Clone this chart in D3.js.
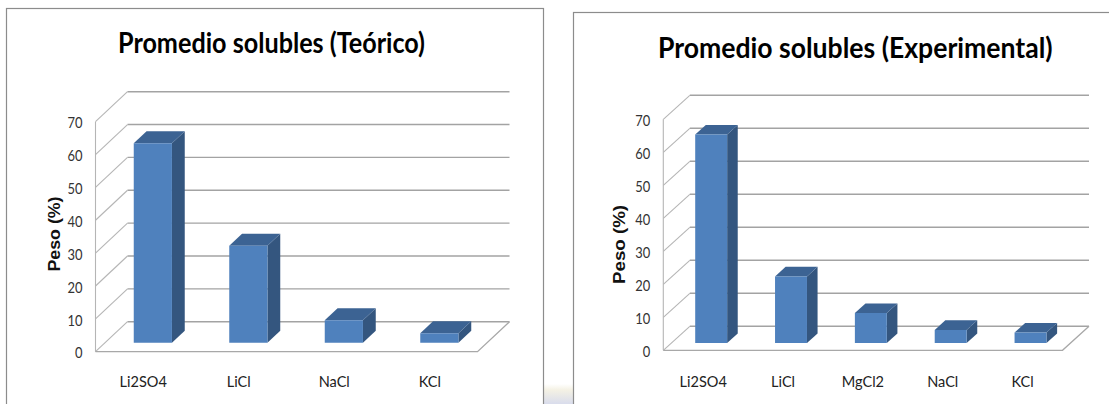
<!DOCTYPE html>
<html><head><meta charset="utf-8">
<script src="https://cdn.jsdelivr.net/npm/d3@7"></script>
<style>body{margin:0;background:#fff;} svg{display:block;}</style>
</head><body>
<svg id="c" width="1109" height="404"></svg>
<script>
// Average soluble salt content, theoretical vs experimental
const categoriesTeorico = ["Li2SO4", "LiCl", "NaCl", "KCl"];
const valuesTeorico = [60.7, 29.5, 6.8, 2.9];
const categoriesExperimental = ["Li2SO4", "LiCl", "MgCl2", "NaCl", "KCl"];
const valuesExperimental = [63.2, 20.2, 9.1, 4.0, 3.2];
const yTickValues = [0, 10, 20, 30, 40, 50, 60, 70];
const yDomain = [0, 70];
const chartTitles = ["Promedio solubles (Teórico)", "Promedio solubles (Experimental)"];
const yAxisTitle = "Peso (%)";

const svg = d3.select("#c");

// slide backdrop showing through between the two chart boxes
const defs = svg.append("defs");
const bg = defs.append("linearGradient").attr("id", "slideBg").attr("x1", 0).attr("y1", 0).attr("x2", 0).attr("y2", 1);
bg.append("stop").attr("offset", 0).attr("stop-color", "#ffffff");
bg.append("stop").attr("offset", 0.3).attr("stop-color", "#f4f1e4");
bg.append("stop").attr("offset", 1).attr("stop-color", "#d9dcec");
svg.append("rect").attr("x", 544).attr("y", 384).attr("width", 29).attr("height", 20).attr("fill", "url(#slideBg)");

const panels = [
  {
    cats: categoriesTeorico, vals: valuesTeorico, title: chartTitles[0],
    frame: { x: 6.5, y: 8.5, w: 537, h: 430 },
    x0: 95.5, x1: 477.5, yBottom: 351.7, yTop: 121.7, dx: 32, dy: -30,
    titleX: 271.5, titleY: 53.3, titleW: 307,
    axTitleX: 60, axTitleY: 234, axTitleLen: 75
  },
  {
    cats: categoriesExperimental, vals: valuesExperimental, title: chartTitles[1],
    frame: { x: 573.5, y: 12.5, w: 600, h: 430 },
    x0: 663.3, x1: 1062.5, yBottom: 350.3, yTop: 119.3, dx: 26.5, dy: -24,
    titleX: 855.3, titleY: 58.3, titleW: 394.7,
    axTitleX: 625, axTitleY: 244.5, axTitleLen: 79
  }
];

const FRONT = "#4f81bd", SIDE = "#34567f", TOP = "#3c6393";
const BAR_D0 = 0.3, BAR_D1 = 0.7;

function squeeze(sel, factor) {
  sel.each(function () {
    const w = this.getComputedTextLength();
    d3.select(this).attr("textLength", w * factor).attr("lengthAdjust", "spacingAndGlyphs");
  });
}

panels.forEach(p => {
  const g = svg.append("g");

  g.append("rect")
    .attr("x", p.frame.x).attr("y", p.frame.y)
    .attr("width", p.frame.w).attr("height", p.frame.h)
    .attr("fill", "#fff").attr("stroke", "#8c8c8c").attr("stroke-width", 1.2);

  const y = d3.scaleLinear().domain(yDomain).range([p.yBottom, p.yTop]);
  const x = d3.scaleBand().domain(p.cats).range([p.x0, p.x1])
    .paddingInner(0.6).paddingOuter(0.3);

  // projection of (front-plane x, value, depth fraction)
  const P = (xf, v, d) => [xf + d * p.dx, y(v) + d * p.dy];
  const line = d3.line();

  // back wall gridlines
  g.append("g").selectAll("path").data(yTickValues).join("path")
    .attr("d", t => line([P(p.x0, t, 1), P(p.x1, t, 1)]))
    .attr("stroke", "#a3a3a3").attr("stroke-width", 1.4).attr("fill", "none");

  // side wall diagonals
  g.append("g").selectAll("path").data(yTickValues).join("path")
    .attr("d", t => line([P(p.x0, t, 0), P(p.x0, t, 1)]))
    .attr("stroke", "#b5b5b5").attr("stroke-width", 1.1).attr("fill", "none");

  // front axis edge and floor
  g.append("path").attr("d", line([P(p.x0, yDomain[1], 0), P(p.x0, 0, 0)]))
    .attr("stroke", "#b5b5b5").attr("stroke-width", 1.1).attr("fill", "none");
  g.append("path").attr("d", line([P(p.x0, 0, 0), P(p.x1, 0, 0), P(p.x1, 0, 1)]))
    .attr("stroke", "#a8a8a8").attr("stroke-width", 1.3).attr("fill", "none");

  // 3D bars
  const bw = x.bandwidth();
  const bars = g.append("g").selectAll("g").data(p.cats.map((c, i) => ({ c, v: p.vals[i] }))).join("g");
  bars.append("path")
    .attr("d", d => line([P(x(d.c) + bw, 0, BAR_D0), P(x(d.c) + bw, 0, BAR_D1), P(x(d.c) + bw, d.v, BAR_D1), P(x(d.c) + bw, d.v, BAR_D0)]) + "Z")
    .attr("fill", SIDE);
  bars.append("path")
    .attr("d", d => line([P(x(d.c), d.v, BAR_D0), P(x(d.c) + bw, d.v, BAR_D0), P(x(d.c) + bw, d.v, BAR_D1), P(x(d.c), d.v, BAR_D1)]) + "Z")
    .attr("fill", TOP);
  bars.append("path")
    .attr("d", d => line([P(x(d.c), 0, BAR_D0), P(x(d.c) + bw, 0, BAR_D0), P(x(d.c) + bw, d.v, BAR_D0), P(x(d.c), d.v, BAR_D0)]) + "Z")
    .attr("fill", FRONT);

  // value axis labels
  const yAxis = g.append("g").attr("transform", `translate(${p.x0},0)`)
    .call(d3.axisLeft(y).tickValues(yTickValues).tickSize(0).tickPadding(13).tickFormat(d3.format("d")));
  yAxis.select(".domain").remove();
  yAxis.selectAll("text")
    .attr("font-family", "Lato, sans-serif").attr("font-size", 15.4).attr("fill", "#333")
    .attr("dy", "0.4em");
  squeeze(yAxis.selectAll("text"), 0.84);

  // category labels
  const xAxis = g.append("g").attr("transform", `translate(0,387)`)
    .call(d3.axisBottom(x).tickSize(0).tickPadding(0));
  xAxis.select(".domain").remove();
  xAxis.selectAll("text")
    .attr("font-family", "Lato, sans-serif").attr("font-size", 15.8).attr("fill", "#222")
    .attr("dy", 0).attr("y", 0);
  squeeze(xAxis.selectAll("text"), 0.92);

  // axis title
  g.append("text").attr("transform", `translate(${p.axTitleX},${p.axTitleY}) rotate(-90)`)
    .attr("text-anchor", "middle").attr("font-family", "'Liberation Sans', Arial, sans-serif")
    .attr("font-weight", "bold").attr("font-size", 16).attr("fill", "#111")
    .attr("textLength", p.axTitleLen).attr("lengthAdjust", "spacingAndGlyphs")
    .text(yAxisTitle);

  // chart title
  g.append("text").attr("x", p.titleX).attr("y", p.titleY)
    .attr("text-anchor", "middle").attr("font-family", "Lato, sans-serif")
    .attr("font-weight", "bold").attr("font-size", 28.4).attr("fill", "#000")
    .attr("textLength", p.titleW).attr("lengthAdjust", "spacingAndGlyphs")
    .text(p.title);
});
</script>
</body></html>
